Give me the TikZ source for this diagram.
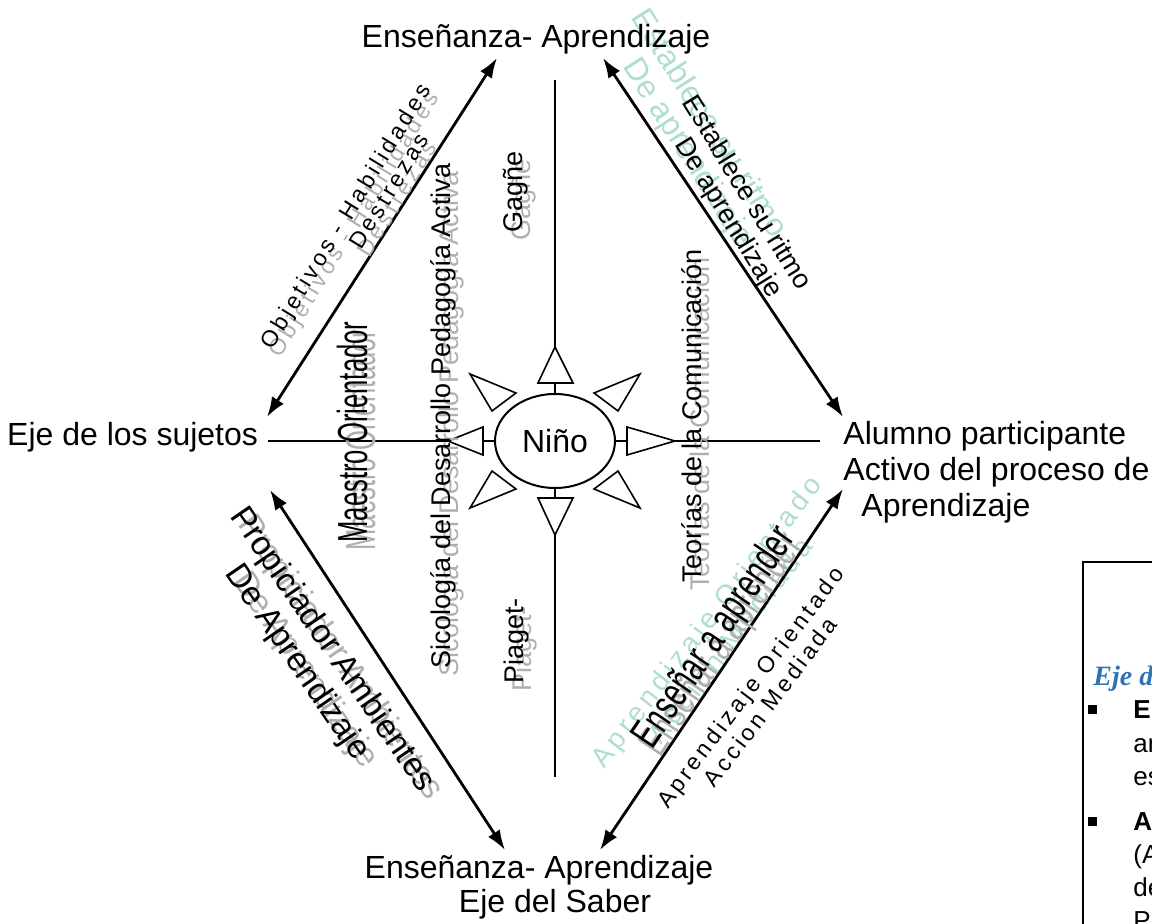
\documentclass[tikz,border=0pt]{standalone}
\usepackage{fontspec}
\setmainfont{Liberation Sans}
\newfontfamily\spacedfont[LetterSpace=15]{Liberation Sans}
\newfontfamily\boxfont{Liberation Serif}
\usepackage{graphicx}
\usepackage{tikz}
\usetikzlibrary{arrows.meta,calc,shapes.geometric}
\definecolor{ShadowGray}{RGB}{175,175,175}
\definecolor{MintGreen}{RGB}{176,222,205}
\definecolor{EjeBlue}{RGB}{46,116,181}
\newcommand{\shadenode}[4]{%
  \node[#2,text=ShadowGray] (#1-sh) at ([shift={(8,8)}]#3) {#4};
  \node[#2] (#1) at (#3) {#4};}

\begin{document}
\begin{tikzpicture}[x=0.5pt,y=-0.5pt,>={Latex[length=10pt,width=7pt]},
    axislabel/.style={font=\fontsize{16}{18}\selectfont,inner sep=0pt},
    vlabel/.style={font=\fontsize{13.5}{16}\selectfont,rotate=90,inner sep=0pt},
    dlabel/.style={font=\fontsize{13.5}{16}\selectfont,inner sep=0pt},
    slabel/.style={font=\spacedfont\fontsize{11.5}{13}\selectfont,inner sep=0pt},
    wlabel/.style={font=\fontsize{21}{24}\selectfont,inner sep=0pt},
    boxtext/.style={font=\fontsize{13}{16.5}\selectfont,align=left,inner sep=0pt,anchor=base west},
    arrowline/.style={<->,line width=1.4pt},
    thinline/.style={line width=0.8pt}]
  \useasboundingbox (0,0) rectangle (1152,924);
  \clip (0,0) rectangle (1152,924);

  % pale green echoes
  \node[dlabel,rotate=-57.5,font=\fontsize{16}{19}\selectfont,text=MintGreen] (ritmoEcho) at (711,122) {Establece su ritmo};
  \node[dlabel,rotate=-57.5,font=\fontsize{16}{19}\selectfont,text=MintGreen] (aprendEcho) at (687,153) {De aprendizaje};
  \node[slabel,rotate=52.5,font=\spacedfont\fontsize{14}{16}\selectfont,text=MintGreen] (orientEcho) at (708,623) {Aprendizaje Orientado};
  \node[slabel,rotate=52.5,font=\spacedfont\fontsize{14}{16}\selectfont,text=MintGreen] (accionEcho) at (730,640) {Accion Mediada};

  % axis labels
  \node[axislabel,anchor=base] (ensTop) at (536,48) {Enseñanza- Aprendizaje};
  \node[axislabel,anchor=base] (ensBot) at (539,878) {Enseñanza- Aprendizaje};
  \node[axislabel,anchor=base] (saber) at (555,913) {Eje del Saber};
  \node[axislabel,anchor=base east,outer sep=5pt] (sujetos) at (268,446) {Eje de los sujetos};
  \node[axislabel,anchor=base west,align=left] (alumno) at (843,517)
    {Alumno participante\\Activo del proceso de\\\hspace*{9pt}Aprendizaje};

  % centre
  \node[axislabel,ellipse,draw,line width=1pt,minimum width=60pt,minimum height=47pt] (nino) at (555,441) {Niño};
  \coordinate (ttip) at (555,347);
  \coordinate (btip) at (555,535);
  \coordinate (ltip) at (448,441);
  \coordinate (rtip) at (675,441);
  \coordinate (vtop) at (555,80);
  \coordinate (vbot) at (555,777);
  \coordinate (hend) at (820,441);
  \draw[thinline] (vtop) -- (ttip);
  \draw[thinline] (btip) -- (vbot);
  \draw[thinline] (sujetos.east |- ltip) -- (ltip);
  \draw[thinline] (rtip) -- (hend);
  \draw[thinline] (ttip) -- (538,383) -- (573,383) -- cycle (555,383) -- (nino.north);
  \draw[thinline] (btip) -- (538,498) -- (573,498) -- cycle (555,498) -- (nino.south);
  \draw[thinline] (ltip) -- (483,427) -- (483,455) -- cycle (483,441) -- (nino.west);
  \draw[thinline] (rtip) -- (627,427) -- (627,455) -- cycle (627,441) -- (nino.east);
  \foreach \sx/\sy in {1/1,1/-1,-1/1,-1/-1}
    \draw[thinline] ($(nino.center)+(\sx*85,\sy*67)$) -- ($(nino.center)+(\sx*39,\sy*48)$)
      -- ($(nino.center)+(\sx*63,\sy*30)$) -- cycle;

  % diagonal arrows
  \coordinate (nwA) at (267,417);
  \coordinate (nwB) at (497,58);
  \coordinate (neA) at (603,58);
  \coordinate (neB) at (843,417);
  \coordinate (swA) at (270,490);
  \coordinate (swB) at (505,850);
  \coordinate (seA) at (843,489);
  \coordinate (seB) at (600,850);
  \draw[arrowline] (nwA) -- (nwB);
  \draw[arrowline] (neA) -- (neB);
  \draw[arrowline] (swA) -- (swB);
  \draw[arrowline] (seA) -- (seB);

  % texts along the arrows
  \shadenode{objetivos}{slabel,rotate=58.5}{347,217}{Objetivos - Habilidades}
  \shadenode{destrezas}{slabel,rotate=58.5}{389,191}{Destrezas}
  \node[dlabel,rotate=-58.4] (ritmo) at (748,192) {Establece su ritmo};
  \node[dlabel,rotate=-58.4] (aprend) at (728,218) {De aprendizaje};
  \shadenode{propicia}{dlabel,rotate=-55.5,font=\fontsize{16.75}{19}\selectfont}{332,650}{Propiciador Ambientes}
  \shadenode{ambiente}{dlabel,rotate=-55.5,font=\fontsize{16.75}{19}\selectfont}{297,663}{De Aprendizaje}
  \shadenode{ensenar}{wlabel,rotate=56}{715,638}{\scalebox{0.69}[1]{Enseñar a aprender}}
  \node[slabel,rotate=53] (orient) at (752,688) {Aprendizaje Orientado};
  \node[slabel,rotate=53] (accion) at (770,702) {Accion Mediada};

  % vertical texts
  \shadenode{maestro}{wlabel,rotate=90}{352,432}{\scalebox{0.61}[1]{Maestro Orientador}}
  \shadenode{sicologia}{vlabel}{443,416}{Sicología del Desarrollo Pedagogía Activa}
  \shadenode{gagne}{vlabel}{516,192}{Gagñe}
  \shadenode{piaget}{vlabel}{517,641}{Piaget-}
  \shadenode{teorias}{vlabel}{692,416}{Teorías de la Comunicación}

  % side box
  \draw[thinline] (1083,562) rectangle (1200,1000);
  \node[anchor=base west,inner sep=0pt,text=EjeBlue,font=\boxfont\bfseries\itshape\fontsize{14}{16}\selectfont] (ejeHead) at (1093,686) {Eje d};
  \node[fill,minimum size=4.5pt,inner sep=0pt] (bulA) at (1092,710) {};
  \node[fill,minimum size=4.5pt,inner sep=0pt] (bulB) at (1092,822) {};
  \node[boxtext] (itemA) at (1133,785) {\textbf{E}\\an\\es};
  \node[boxtext] (itemB) at (1133,929) {\textbf{A}\\(A\\de\\P};
\end{tikzpicture}
\end{document}
